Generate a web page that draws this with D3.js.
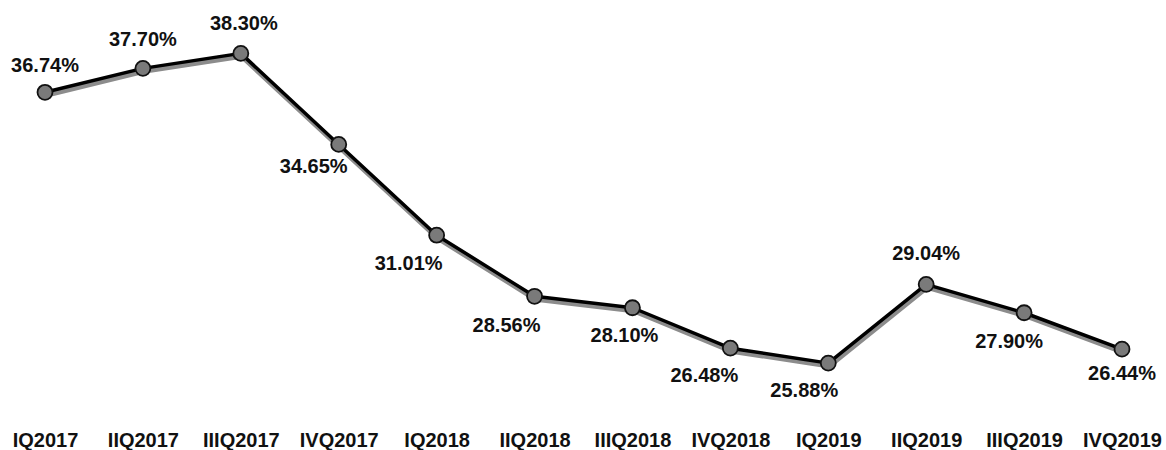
<!DOCTYPE html>
<html><head><meta charset="utf-8">
<script src="https://cdn.jsdelivr.net/npm/d3@7/dist/d3.min.js"></script>
<style>html,body{margin:0;padding:0;background:#fff;}svg{display:block;}</style>
</head><body>
<svg id="c" width="1166" height="450"></svg>
<script>
const categories = ["IQ2017","IIQ2017","IIIQ2017","IVQ2017","IQ2018","IIQ2018","IIIQ2018","IVQ2018","IQ2019","IIQ2019","IIIQ2019","IVQ2019"];
const values = [36.74, 37.70, 38.30, 34.65, 31.01, 28.56, 28.10, 26.48, 25.88, 29.04, 27.90, 26.44];
const valueLabels = ["36.74%","37.70%","38.30%","34.65%","31.01%","28.56%","28.10%","26.48%","25.88%","29.04%","27.90%","26.44%"];

// label placement relative to each point (styling, not data)
const labelOffsets = [[0,-20],[0,-22],[3,-23],[-25,29],[-28,35],[-28,36],[-8,34],[-26,34],[-24,34],[0,-24],[-15,35],[0,31]];

const svg = d3.select("#c");
const x = d3.scalePoint().domain(categories).range([45, 1122]);
const y = d3.scaleLinear().domain([24, 40]).range([410, 11]);
const font = "'Liberation Sans', Arial, sans-serif";

const line = d3.line().x((d,i)=>x(categories[i])).y(d=>y(d));

// shadow
svg.append("path").datum(values)
  .attr("d", line).attr("transform","translate(1,3)")
  .attr("fill","none").attr("stroke","#8c8c8c").attr("stroke-width",5)
  .attr("stroke-linejoin","round");
svg.append("path").datum(values)
  .attr("d", line)
  .attr("fill","none").attr("stroke","#000").attr("stroke-width",3.5)
  .attr("stroke-linejoin","round");

svg.selectAll("circle.m").data(values).join("circle")
  .attr("class","m")
  .attr("cx",(d,i)=>x(categories[i])).attr("cy",d=>y(d)).attr("r",7.5)
  .attr("fill","#7a7a7a").attr("stroke","#111").attr("stroke-width",1.8);

svg.selectAll("text.v").data(values).join("text")
  .attr("class","v")
  .attr("x",(d,i)=>x(categories[i]) + labelOffsets[i][0])
  .attr("y",(d,i)=>y(d) + labelOffsets[i][1])
  .attr("text-anchor","middle")
  .attr("font-family",font).attr("font-weight","bold").attr("font-size",20)
  .attr("fill","#111")
  .text((d,i)=>valueLabels[i]);

const xAxis = d3.axisBottom(x).tickSize(0).tickPadding(0);
const gx = svg.append("g").attr("transform","translate(0,433)").call(xAxis);
gx.select(".domain").remove();
gx.selectAll("text")
  .attr("font-family",font).attr("font-weight","bold").attr("font-size",20)
  .attr("fill","#111").attr("dy","0.71em");
</script>
</body></html>
